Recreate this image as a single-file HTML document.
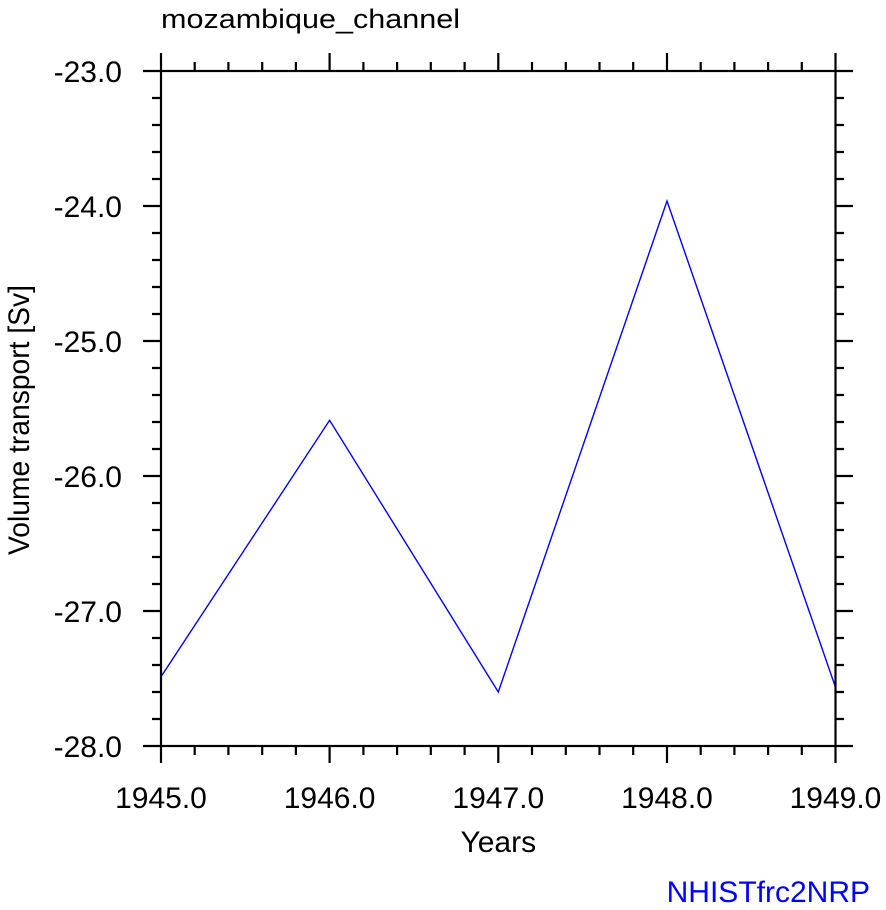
<!DOCTYPE html>
<html>
<head>
<meta charset="utf-8">
<style>
  html, body { margin: 0; padding: 0; background: #ffffff; }
  svg { display: block; }
  text { font-family: "Liberation Sans", Arial, sans-serif; }
</style>
</head>
<body>
<svg width="886" height="910" viewBox="0 0 886 910" xmlns="http://www.w3.org/2000/svg">
  <rect x="0" y="0" width="886" height="910" fill="#ffffff"/>

  <!-- Title -->
  <text x="161" y="28" font-size="27" textLength="299" lengthAdjust="spacingAndGlyphs" fill="#000">mozambique_channel</text>

  <!-- Data line -->
  <polyline fill="none" stroke="#0000ff" stroke-width="1.4" stroke-linejoin="miter"
    points="161,676.7 329.6,420.3 498.3,692 667,201 835.5,687.3"/>

  <!-- Ticks -->
  <g stroke="#000" stroke-width="2.2" fill="none">
    <path d="M143,71H161 M143,206H161 M143,341H161 M143,476H161 M143,611H161 M143,746H161"/>
    <path d="M152,98H161 M152,125H161 M152,152H161 M152,179H161
             M152,233H161 M152,260H161 M152,287H161 M152,314H161
             M152,368H161 M152,395H161 M152,422H161 M152,449H161
             M152,503H161 M152,530H161 M152,557H161 M152,584H161
             M152,638H161 M152,665H161 M152,692H161 M152,719H161"/>
    <path d="M835.5,71H853 M835.5,206H853 M835.5,341H853 M835.5,476H853 M835.5,611H853 M835.5,746H853"/>
    <path d="M835.5,98H844 M835.5,125H844 M835.5,152H844 M835.5,179H844
             M835.5,233H844 M835.5,260H844 M835.5,287H844 M835.5,314H844
             M835.5,368H844 M835.5,395H844 M835.5,422H844 M835.5,449H844
             M835.5,503H844 M835.5,530H844 M835.5,557H844 M835.5,584H844
             M835.5,638H844 M835.5,665H844 M835.5,692H844 M835.5,719H844"/>
    <path d="M161,53V71 M329.6,53V71 M498.3,53V71 M667,53V71 M835.5,53V71"/>
    <path d="M194.7,62V71 M228.4,62V71 M262.2,62V71 M295.9,62V71
             M363.4,62V71 M397.1,62V71 M430.8,62V71 M464.6,62V71
             M532,62V71 M565.8,62V71 M599.5,62V71 M633.2,62V71
             M700.7,62V71 M734.4,62V71 M768.1,62V71 M801.8,62V71"/>
    <path d="M161,746V763 M329.6,746V763 M498.3,746V763 M667,746V763 M835.5,746V763"/>
    <path d="M194.7,746V755 M228.4,746V755 M262.2,746V755 M295.9,746V755
             M363.4,746V755 M397.1,746V755 M430.8,746V755 M464.6,746V755
             M532,746V755 M565.8,746V755 M599.5,746V755 M633.2,746V755
             M700.7,746V755 M734.4,746V755 M768.1,746V755 M801.8,746V755"/>
  </g>

  <!-- Frame -->
  <rect x="161" y="71" width="674.5" height="675" fill="none" stroke="#000" stroke-width="2.2"/>

  <!-- Y tick labels -->
  <g font-size="30" fill="#000" text-anchor="end">
    <text x="122" y="82">-23.0</text>
    <text x="122" y="217">-24.0</text>
    <text x="122" y="352">-25.0</text>
    <text x="122" y="487">-26.0</text>
    <text x="122" y="622">-27.0</text>
    <text x="122" y="757">-28.0</text>
  </g>

  <!-- X tick labels -->
  <g font-size="30" fill="#000" text-anchor="middle">
    <text x="161" y="808">1945.0</text>
    <text x="329.6" y="808">1946.0</text>
    <text x="498.3" y="808">1947.0</text>
    <text x="667" y="808">1948.0</text>
    <text x="835.5" y="808">1949.0</text>
  </g>

  <!-- Axis titles -->
  <text x="498.3" y="852" font-size="30" fill="#000" text-anchor="middle">Years</text>
  <text transform="translate(29,420) rotate(-90)" font-size="30" fill="#000" text-anchor="middle" textLength="270" lengthAdjust="spacingAndGlyphs">Volume transport [Sv]</text>

  <!-- Bottom right label -->
  <text x="870" y="902" font-size="30" fill="#0000ff" text-anchor="end">NHISTfrc2NRP</text>
</svg>
</body>
</html>
